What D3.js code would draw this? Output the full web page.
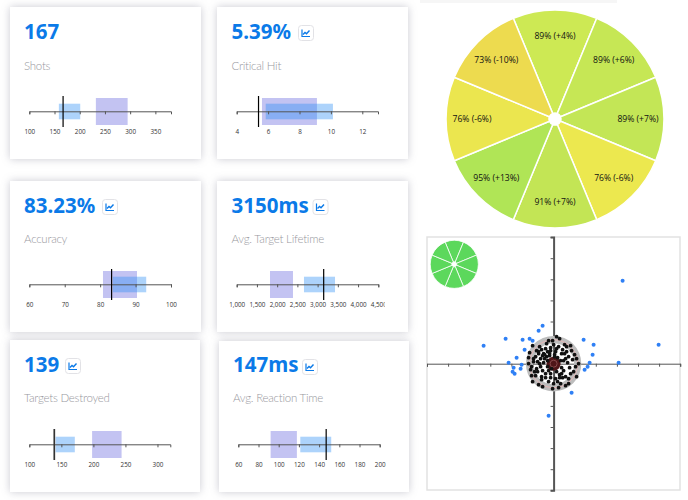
<!DOCTYPE html>
<html lang="en">
<head>
<meta charset="utf-8">
<title>Stats</title>
<script src="https://cdn.jsdelivr.net/npm/d3@7"></script>
<style>
  html, body { margin: 0; padding: 0; background: #fff; overflow: hidden; }
  svg { display: block; }
  .card { fill: #fff; filter: drop-shadow(0 0 4px rgba(60,60,90,.28)); }
  .value { font-family: "Noto Sans", sans-serif; font-weight: 700; font-size: 20.5px; fill: #0b7ae8; }
  .name { font-family: "Lato", sans-serif; font-weight: 300; font-size: 11.5px; letter-spacing: -.25px; fill: #98989e; }
  .tick text { font-family: "Open Sans", sans-serif; font-size: 6.3px; fill: #333; }
  .axis path, .axis line { stroke: #555; }
  .slice-label { font-family: "Open Sans", sans-serif; font-size: 8.6px; fill: #111; text-anchor: middle; dominant-baseline: central; }
</style>
</head>
<body>
<script>
// stat cards
var titles = ["Shots", "Critical Hit", "Accuracy", "Avg. Target Lifetime", "Targets Destroyed", "Avg. Reaction Time"];
var valueLabels = ["167", "5.39%", "83.23%", "3150ms", "139", "147ms"];
var values = [167, 5.39, 83.23, 3150, 139, 147];
var domains = [[100, 381], [4, 13], [60, 100], [1000, 4500], [100, 320], [60, 200]];
var tickValues = [
  [100, 150, 200, 250, 300, 350],
  [4, 6, 8, 10, 12],
  [60, 70, 80, 90, 100],
  [1000, 1500, 2000, 2500, 3000, 3500, 4000, 4500],
  [100, 150, 200, 250, 300],
  [60, 80, 100, 120, 140, 160, 180, 200]
];
var blueBands = [[158.6, 201], [5.85, 10.13], [83.6, 93], [2663, 3430], [141, 171], [121.4, 152]];
var purpleBands = [[232, 295], [5.61, 9.11], [80.8, 90.4], [1823, 2391], [198, 244], [92, 118]];

// wheel
var wheelPct = [89, 89, 89, 76, 91, 95, 76, 73];
var wheelDiff = ["+4", "+6", "+7", "-6", "+7", "+13", "-6", "-10"];
var wheelColors = ["#cde954", "#c6e755", "#c3e656", "#ece84f", "#c3e555", "#b0e556", "#ebe64f", "#eddb4f"];
var miniSlices = [1, 1, 1, 1, 1, 1, 1, 1];

// scatter, offsets from the centre
var scatterTicks = [-126.6, -105.5, -84.4, -63.3, -42.2, -21.1, 21.1, 42.2, 63.3, 84.4, 105.5, 126.6];
var blueX = [69, 105, 39, 40, 30, -11, -15, -48, -70, -31, -24, -21, -29, -37, -45, -40, -32, -33, -41, -39, 36, 34, 31, 65, 18, -5];
var blueY = [83, 19, 9, 19, 24, 38, 33, 25, 18, 24, 25, 23, 14, 6, 1, -4, -1, -5, -8, -10, 1, -3, -6, 1, -29, -52];
var blackX = [3, 6, -1, -5, 11, 17, -21, -8, -12, 0, 5, 13, 18, -17, -10, -3, 2, 8, 15, -25, -18, -13, -7, -20, -25, 23, 25, 22, 23, 15, 15, 12, 8, 3, -3, -12, -18, -22, -21, -15, -11, -5, 0, 7, 12, -17, -22, -13, -6, -9, -15, -4, 4, 10, -11, -2, -8, 14, 20, 9, 17, -19, -24, -16, -7, 1, 6, -14, -10, 2, 11, -3, 19, 21, 16, -23, -1, 5, 8, 13, -6, -11, -15, -9, -4, 3, 9, -8, -3, 6, -12, -5, 12, -16, 7, 1, -20, -14, -6, 10, 4];
var blackY = [27, 25, 23, 23, 19, 18, 18, 15, 14, 19, 17, 17, 13, 13, 10, 13, 12, 10, 7, 6, 7, 5, 7, 2, 0, 5, 0, -3, -13, -15, -20, -13, -10, -8, -10, -13, -12, -12, -18, -21, -23, -18, -20, -20, -22, -5, -3, -3, 3, 9, 10, 8, 6, 3, -7, -5, -14, 1, -8, -14, -10, -8, 11, 2, 20, 9, -14, 17, 1, -15, 10, 16, 4, 9, -4, -6, -25, -24, -4, 12, 12, 8, 12, 5, 10, 15, 14, -10, -14, -11, -16, -7, 5, -8, 3, 7, 5, 0, -3, -7, -18];
var centerRingR = [27.7, 20.5];
var scoreRingR = 24;
var bullR = 7;

var svg = d3.select("body").append("svg").attr("width", 688).attr("height", 500);
var defs = svg.append("defs");

// top strip from the block above the wheel
svg.append("rect").attr("x", 420).attr("y", 0).attr("width", 197).attr("height", 3).attr("fill", "#f6f6f6");

var cardBoxes = [
  {x: 10, y: 7, w: 191, h: 152, ax: 111.3, base: 39, nameBase: 70, textX: 24, left: 29.3, right: 171},
  {x: 217, y: 7, w: 191, h: 152, ax: 111.3, base: 39, nameBase: 70, textX: 231.5, left: 236.7, right: 378},
  {x: 10, y: 181, w: 191, h: 151, ax: 284.3, base: 212.5, nameBase: 243, textX: 24, left: 29.3, right: 171},
  {x: 217, y: 181, w: 191, h: 151, ax: 284.3, base: 212.5, nameBase: 243, textX: 231.5, left: 236.7, right: 378.3},
  {x: 10, y: 340, w: 190, h: 152, ax: 444.3, base: 371.5, nameBase: 402, textX: 24, left: 29.3, right: 170.3},
  {x: 219, y: 341, w: 190, h: 151, ax: 444.3, base: 371.5, nameBase: 402, textX: 233, left: 238.3, right: 379.7}
];
var iconPos = [null, [298, 25], [102, 199], [312.5, 199], [65, 358], [302, 359]];
var fmt = d3.format(",");

titles.forEach(function(t, i) {
  var b = cardBoxes[i];
  var g = svg.append("g");
  g.append("rect").attr("class", "card").attr("x", b.x).attr("y", b.y).attr("width", b.w).attr("height", b.h);
  g.append("text").attr("class", "value").attr("x", b.textX).attr("y", b.base).text(valueLabels[i]);
  g.append("text").attr("class", "name").attr("x", b.textX).attr("y", b.nameBase).text(t);

  // the little chart button
  if (iconPos[i]) {
    var ic = g.append("g").attr("transform", "translate(" + iconPos[i][0] + "," + iconPos[i][1] + ")");
    ic.append("rect").attr("x", .5).attr("y", .5).attr("width", 15).attr("height", 15).attr("rx", 3)
      .attr("fill", "#fff").attr("stroke", "#e2e2e6");
    ic.append("path").attr("d", "M4 4.5V11.5H12").attr("fill", "none").attr("stroke", "#0b7ae8").attr("stroke-width", 1.2);
    ic.append("path").attr("d", "M5 9.5L7 7.5L8.5 8.8L11.5 5.5").attr("fill", "none").attr("stroke", "#0b7ae8").attr("stroke-width", 1.4);
  }

  var x = d3.scaleLinear().domain(domains[i]).range([b.left, b.right]);

  g.append("rect").attr("x", x(purpleBands[i][0])).attr("y", b.ax - 13.3)
    .attr("width", x(purpleBands[i][1]) - x(purpleBands[i][0])).attr("height", 27)
    .attr("fill", "rgb(90,90,220)").attr("fill-opacity", .36);
  g.append("rect").attr("x", x(blueBands[i][0])).attr("y", b.ax - 7.6)
    .attr("width", x(blueBands[i][1]) - x(blueBands[i][0])).attr("height", 15.6)
    .attr("fill", "rgb(40,140,245)").attr("fill-opacity", .38);

  // the Target Lifetime axis runs out of its box on the right
  var clipId = "clip" + i;
  defs.append("clipPath").attr("id", clipId).append("rect")
    .attr("x", b.x).attr("y", -20).attr("width", b.left + 148 - b.x).attr("height", 50);

  var axis = d3.axisBottom(x).tickValues(tickValues[i]).tickSize(3).tickPadding(15)
    .tickFormat(function(d) { return i == 3 ? fmt(d) : d; });
  var axG = g.append("g").attr("class", "axis").attr("clip-path", "url(#" + clipId + ")")
    .attr("transform", "translate(0," + b.ax + ")").call(axis);
  axG.select(".domain").attr("stroke-width", 1);

  g.append("line").attr("x1", x(values[i])).attr("x2", x(values[i]))
    .attr("y1", b.ax - 15.3).attr("y2", b.ax + 15.7)
    .attr("stroke", i == 4 ? "#333" : "#000").attr("stroke-width", i == 4 ? 1.7 : 1.2);
});

// accuracy wheel
var pie = d3.pie().sort(null).startAngle(-Math.PI / 8).endAngle(2 * Math.PI - Math.PI / 8);
var wheel = svg.append("g").attr("transform", "translate(555,119)");
var wheelArc = d3.arc().innerRadius(6).outerRadius(109);
var labelArc = d3.arc().innerRadius(83).outerRadius(83);

var wheelData = pie(miniSlices);
wheel.selectAll("path").data(wheelData).enter().append("path")
  .attr("d", wheelArc)
  .attr("fill", function(d, i) { return wheelColors[i]; })
  .attr("stroke", "#fff").attr("stroke-width", 1.5);
wheel.selectAll("text").data(wheelData).enter().append("text")
  .attr("class", "slice-label")
  .attr("transform", function(d) { return "translate(" + labelArc.centroid(d) + ")"; })
  .text(function(d, i) { return wheelPct[i] + "% (" + wheelDiff[i] + "%)"; });

// scatter
var sx = d3.scaleLinear().domain([-126.6, 126.6]).range([427, 680.2]);
var sy = d3.scaleLinear().domain([-126.6, 126.6]).range([490.3, 237.1]);

svg.append("rect").attr("x", 427).attr("y", 237).attr("width", 253).attr("height", 253)
  .attr("fill", "#fff").attr("stroke", "#e2e2e2").attr("stroke-width", 1.5);

var yAxis = svg.append("g").attr("class", "axis").attr("transform", "translate(" + sx(0) + ",0)")
  .call(d3.axisLeft(sy).tickValues(scatterTicks).tickSize(3).tickFormat(""));
yAxis.select(".domain").attr("stroke", "#aaa").attr("stroke-width", 2);
var xAxis = svg.append("g").attr("class", "axis").attr("transform", "translate(0," + sy(0) + ")")
  .call(d3.axisBottom(sx).tickValues(scatterTicks).tickSize(3).tickFormat(""));
xAxis.select(".domain").attr("stroke", "#555");

var bullseye = svg.append("g").attr("transform", "translate(" + sx(0) + "," + sy(0) + ")");
bullseye.append("path")
  .attr("d", d3.arc().innerRadius(centerRingR[1]).outerRadius(centerRingR[0]).startAngle(0).endAngle(2 * Math.PI)())
  .attr("fill", "#bdbdbd");
bullseye.append("circle").attr("r", scoreRingR).attr("fill", "none").attr("stroke", "#f0b4b4").attr("stroke-width", .8);

svg.append("g").selectAll("circle").data(blueX).enter().append("circle")
  .attr("cx", function(d) { return sx(d); })
  .attr("cy", function(d, i) { return sy(blueY[i]); })
  .attr("r", 2).attr("fill", "#2f80f5");

svg.append("g").selectAll("circle").data(blackX).enter().append("circle")
  .attr("cx", function(d) { return sx(d); })
  .attr("cy", function(d, i) { return sy(blackY[i]); })
  .attr("r", 1.9).attr("fill", "#111");

bullseye.append("circle").attr("r", bullR).attr("fill", "#4f1518");
bullseye.append("circle").attr("r", 3.5).attr("fill", "none").attr("stroke", "#a86c6c").attr("stroke-width", .6);

// small wheel
var miniArc = d3.arc().innerRadius(2.5).outerRadius(24);
svg.append("g").attr("transform", "translate(454.3,264.3)")
  .selectAll("path").data(wheelData).enter().append("path")
  .attr("d", miniArc).attr("fill", "#5cd85c").attr("stroke", "#fff").attr("stroke-width", .8);
</script>
</body>
</html>
